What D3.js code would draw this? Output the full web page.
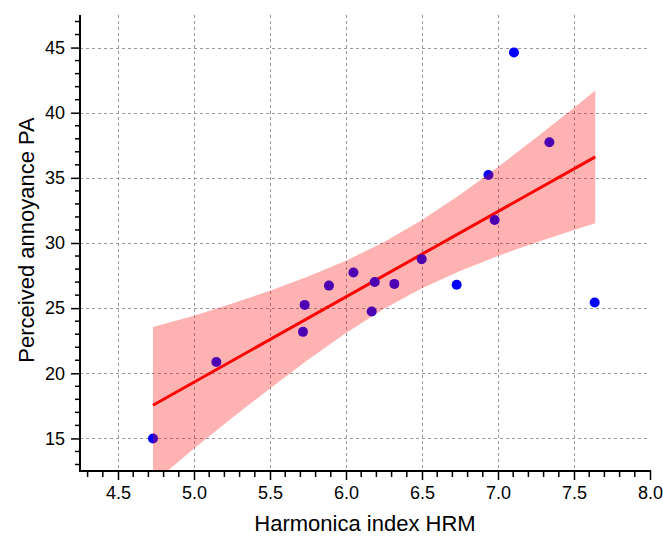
<!DOCTYPE html>
<html>
<head>
<meta charset="utf-8">
<script src="https://cdn.jsdelivr.net/npm/d3@7"></script>
<style>
  html, body { margin: 0; padding: 0; background: #fff; }
  svg { display: block; font-family: "Liberation Sans", Arial, sans-serif; }
</style>
</head>
<body>
<svg id="chart" width="663" height="540"></svg>
<script>
// ---- data ----
const hrm = [4.73, 5.147, 5.717, 5.728, 5.888, 6.049, 6.189, 6.169, 6.318, 6.498, 6.728, 6.937, 6.978, 7.105, 7.338, 7.636];
const pa  = [15.0, 20.86, 23.18, 25.25, 26.73, 27.73, 27.0, 24.74, 26.86, 28.76, 26.79, 35.22, 31.77, 44.63, 37.73, 25.43];

const fitX = [4.73, 7.64];
const fitY = [17.55, 36.61];

const bandX     = [4.73, 5.0, 5.25, 5.5, 5.75, 6.0, 6.25, 6.5, 6.75, 7.0, 7.25, 7.5, 7.64];
const bandUpper = [23.55, 24.42, 25.36, 26.34, 27.42, 28.64, 30.07, 31.76, 33.70, 35.83, 38.08, 40.38, 41.70];
const bandLower = [11.55, 14.22, 16.56, 18.84, 21.04, 23.10, 24.95, 26.52, 27.86, 29.01, 30.04, 31.00, 31.52];

const xTicks = [4.5, 5.0, 5.5, 6.0, 6.5, 7.0, 7.5, 8.0];
const yTicks = [15, 20, 25, 30, 35, 40, 45];
const xMinor = [4.3, 4.4, 4.6, 4.7, 4.8, 4.9, 5.1, 5.2, 5.3, 5.4, 5.6, 5.7, 5.8, 5.9, 6.1, 6.2, 6.3, 6.4, 6.6, 6.7, 6.8, 6.9, 7.1, 7.2, 7.3, 7.4, 7.6, 7.7, 7.8, 7.9];
const yMinor = [13, 14, 16, 17, 18, 19, 21, 22, 23, 24, 26, 27, 28, 29, 31, 32, 33, 34, 36, 37, 38, 39, 41, 42, 43, 44, 46, 47];

const xTitle = "Harmonica index HRM";
const yTitle = "Perceived annoyance PA";

// ---- layout ----
const L = 80, R = 650, T = 15, B = 471;
const svg = d3.select("#chart");
const x = d3.scaleLinear().domain([4.25, 8.0]).range([L, R]);
const y = d3.scaleLinear().domain([12.5, 47.5]).range([B, T]);

svg.append("defs").append("clipPath").attr("id", "plotclip")
  .append("rect").attr("x", L).attr("y", T).attr("width", R - L).attr("height", B - T);

// grid
const grid = svg.append("g").attr("stroke", "#9a9a9a").attr("stroke-width", 1)
  .attr("stroke-dasharray", "3,3").attr("fill", "none");
grid.selectAll("line.v").data(xTicks.filter(d => d < 8)).join("line")
  .attr("x1", d => Math.round(x(d)) + 0.5).attr("x2", d => Math.round(x(d)) + 0.5)
  .attr("y1", T).attr("y2", B);
grid.selectAll("line.h").data(yTicks).join("line")
  .attr("y1", d => Math.round(y(d)) + 0.5).attr("y2", d => Math.round(y(d)) + 0.5)
  .attr("x1", L).attr("x2", R);

const plot = svg.append("g").attr("clip-path", "url(#plotclip)");

// fit line
plot.append("path")
  .datum(fitX.map((d, i) => [d, fitY[i]]))
  .attr("d", d3.line().x(d => x(d[0])).y(d => y(d[1])))
  .attr("stroke", "#ff0000").attr("stroke-width", 3).attr("fill", "none");

// points
plot.selectAll("circle").data(hrm.map((d, i) => [d, pa[i]])).join("circle")
  .attr("cx", d => x(d[0])).attr("cy", d => y(d[1])).attr("r", 5)
  .attr("fill", "#0000ff");

// confidence band (drawn on top, translucent)
plot.append("path")
  .datum(bandX.map((d, i) => [d, bandLower[i], bandUpper[i]]))
  .attr("d", d3.area().x(d => x(d[0])).y0(d => y(d[1])).y1(d => y(d[2])))
  .attr("fill", "#ff0000").attr("fill-opacity", 0.3).attr("stroke", "none");

// axes
const xAxisG = svg.append("g").attr("transform", `translate(0,${B})`);
xAxisG.call(d3.axisBottom(x).tickValues(xTicks).tickFormat(d3.format(".1f")).tickSize(9).tickPadding(6))
  .call(g => g.select(".domain").remove());
xAxisG.selectAll(".tick line").attr("stroke", "#000").attr("stroke-width", 1.5);
xAxisG.selectAll(".tick text").attr("font-size", 18).attr("fill", "#000")
  .attr("font-family", "Liberation Sans, Arial, sans-serif");
xAxisG.selectAll("line.minor").data(xMinor).join("line").attr("class", "minor")
  .attr("x1", d => x(d)).attr("x2", d => x(d)).attr("y1", 0).attr("y2", 6)
  .attr("stroke", "#000").attr("stroke-width", 1.5);
xAxisG.append("line").attr("x1", L - 1).attr("x2", R + 1).attr("y1", 0).attr("y2", 0)
  .attr("stroke", "#000").attr("stroke-width", 2);

const yAxisG = svg.append("g").attr("transform", `translate(${L},0)`);
yAxisG.call(d3.axisLeft(y).tickValues(yTicks).tickFormat(d3.format("d")).tickSize(9).tickPadding(6))
  .call(g => g.select(".domain").remove());
yAxisG.selectAll(".tick line").attr("stroke", "#000").attr("stroke-width", 1.5);
yAxisG.selectAll(".tick text").attr("font-size", 18).attr("fill", "#000")
  .attr("font-family", "Liberation Sans, Arial, sans-serif");
yAxisG.selectAll("line.minor").data(yMinor).join("line").attr("class", "minor")
  .attr("y1", d => y(d)).attr("y2", d => y(d)).attr("x1", 0).attr("x2", -5)
  .attr("stroke", "#000").attr("stroke-width", 1.5);
yAxisG.append("line").attr("x1", 0).attr("x2", 0).attr("y1", T).attr("y2", B + 1)
  .attr("stroke", "#000").attr("stroke-width", 2);

// titles
svg.append("text").attr("x", (L + R) / 2).attr("y", 531).attr("text-anchor", "middle")
  .attr("font-size", 22).attr("fill", "#000").text(xTitle);
svg.append("text").attr("transform", `translate(34,240) rotate(-90)`)
  .attr("text-anchor", "middle").attr("font-size", 22).attr("fill", "#000").text(yTitle);
</script>
</body>
</html>
